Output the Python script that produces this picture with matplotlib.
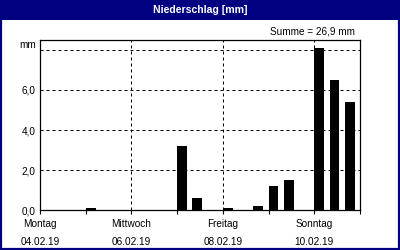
import numpy as np
import matplotlib
matplotlib.use('Agg')
import matplotlib.pyplot as plt
import matplotlib.dates as mdates
from matplotlib.patches import Rectangle

# Niederschlag je 8-Stunden-Intervall (nur Intervalle > 0)
zeiten = np.array(['2019-02-05T00:00', '2019-02-07T00:00', '2019-02-07T08:00',
                   '2019-02-08T00:00', '2019-02-08T16:00', '2019-02-09T00:00',
                   '2019-02-09T08:00', '2019-02-10T00:00', '2019-02-10T08:00',
                   '2019-02-10T16:00'], dtype='datetime64[m]')
werte = [0.1, 3.2, 0.6, 0.1, 0.2, 1.2, 1.5, 8.1, 6.5, 5.4]

tage = np.arange('2019-02-04', '2019-02-12', dtype='datetime64[D]')
wochentage = ['Montag', 'Dienstag', 'Mittwoch', 'Donnerstag', 'Freitag', 'Samstag', 'Sonntag', 'Montag']
y_ticks = [0, 2, 4, 6, 8]
y_labels = ['0,0', '2,0', '4,0', '6,0', 'mm']

navy = '#000080'
plt.rcParams['font.family'] = ['Liberation Sans', 'DejaVu Sans']
plt.rcParams['font.size'] = 7.2

fig = plt.figure(figsize=(4, 2.5), dpi=100)
fig.patch.set_facecolor('white')

# Rahmen + Titelleiste
fig.patches.append(Rectangle((0, 0.92), 1, 0.08, transform=fig.transFigure,
                             facecolor=navy, edgecolor='none', zorder=0))
fig.patches.append(Rectangle((0.002, 0.003), 0.996, 0.994, transform=fig.transFigure,
                             facecolor='none', edgecolor=navy, linewidth=1.6, zorder=5))
fig.text(0.5, 0.96, 'Niederschlag [mm]', color='white', fontweight='bold',
         ha='center', va='center', fontsize=7.6)
summe = ('Summe = %.1f mm' % sum(werte)).replace('.', ',')
fig.text(0.888, 0.876, summe, ha='right', va='center')

ax = fig.add_axes([0.1, 0.16, 0.8, 0.68])
x = mdates.date2num(zeiten.astype('datetime64[s]').astype(object))
ax.bar(x, werte, width=0.217, align='edge', color='black', zorder=3)

xt = mdates.date2num(tage.astype('datetime64[s]').astype(object))
ax.set_xlim(xt[0], xt[-1])
ax.set_ylim(0, 8.5)

ax.set_xticks(xt[::2])
ax.set_xticklabels(['%s\n%s' % (w, t.astype(object).strftime('%d.%m.%y'))
                    for w, t in zip(wochentage[::2], tage[::2])], linespacing=2.0)
ax.set_xticks(xt, minor=True)
ax.tick_params(axis='x', which='both', direction='out', length=3, width=0.8, pad=3.5)

ax.set_yticks(y_ticks)
ax.set_yticklabels(y_labels)
ax.tick_params(axis='y', length=0, pad=3)
ax.get_yticklabels()[-1].set_va('bottom')

ax.grid(True, which='major', color='black', linestyle=(0, (3, 3)), linewidth=0.72, zorder=1)
for s in ax.spines.values():
    s.set_linewidth(0.9)

fig.savefig('out.png', dpi=100)
